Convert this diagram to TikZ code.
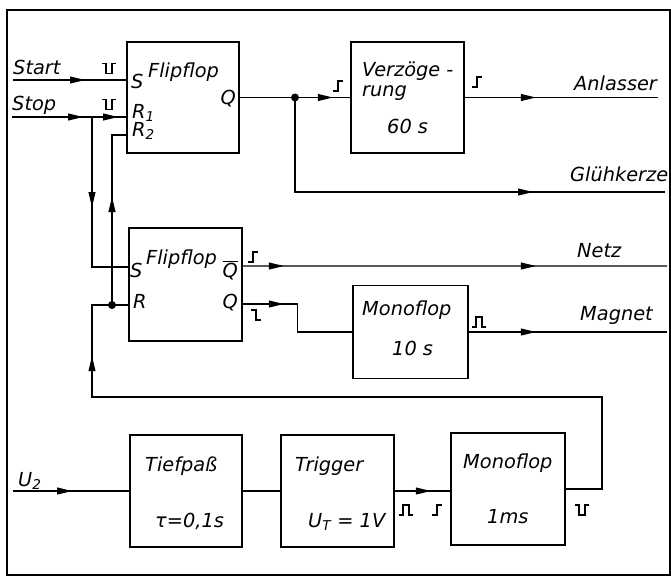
\documentclass[tikz,border=0pt]{standalone}
\usepackage{fontspec}
\setmainfont{DejaVu Sans}
\usetikzlibrary{arrows.meta,decorations.markings}

\begin{document}
\begin{tikzpicture}[
  txt/.style={font=\itshape\fontsize{16.5}{18}\selectfont,inner sep=0pt},
  block/.style={draw,line width=1.3pt,inner sep=0pt,
    minimum width=3.39cm,minimum height=3.36cm},
  wire/.style={line width=0.9pt},
  arr/.style={postaction={decorate,decoration={markings,
    mark=at position #1 with {\arrow{Triangle[length=0.45cm,width=0.21cm]}}}}},
  dot/.style={circle,fill,inner sep=0pt,minimum size=0.24cm},
  sym/.style={line width=1.6pt,line join=miter},
  rise/.pic={\draw[sym] (-0.14,-0.15) -- (0,-0.15) -- (0,0.15) -- (0.14,0.15);},
  fall/.pic={\draw[sym] (-0.14,0.15) -- (0,0.15) -- (0,-0.15) -- (0.14,-0.15);},
  pospulse/.pic={\draw[sym] (-0.2,-0.15) -- (-0.09,-0.15) -- (-0.09,0.15)
    -- (0.09,0.15) -- (0.09,-0.15) -- (0.2,-0.15);},
  negpulse/.pic={\draw[sym] (-0.2,0.15) -- (-0.09,0.15) -- (-0.09,-0.15)
    -- (0.09,-0.15) -- (0.09,0.15) -- (0.2,0.15);}
]
\useasboundingbox (0,0) rectangle (20.13,-17.31);
\draw[line width=2pt] (0.21,-0.30) rectangle (20.10,-17.25);

% blocks
\node[block,minimum width=3.36cm,minimum height=3.33cm] (ff1) at (5.49,-2.925) {};
\node[block,minimum height=3.33cm] (delay) at (12.225,-2.925) {};
\node[block,minimum height=3.39cm] (ff2) at (5.565,-8.535) {};
\node[block,minimum width=3.45cm,minimum height=2.79cm] (mono10) at (12.315,-9.96) {};
\node[block,minimum width=3.36cm] (lowpass) at (5.58,-14.73) {};
\node[block] (trigger) at (10.125,-14.73) {};
\node[block,minimum width=3.42cm] (mono1) at (15.24,-14.67) {};

\node[dot] (qdot) at (8.85,-2.925) {};
\node[dot] (rdot) at (3.36,-9.15) {};

\coordinate (start) at (0.39,-2.40);
\coordinate (stop) at (0.36,-3.51);
\coordinate (stopsplit) at (2.76,-3.51);
\coordinate (anlasser) at (19.74,-2.925);
\coordinate (gluehe) at (19.95,-5.76);
\coordinate (netz) at (20.01,-7.98);
\coordinate (magnet) at (20.01,-9.96);
\coordinate (u2) at (0.39,-14.73);

% texts
\node[txt,anchor=base west] (startlbl) at (0.39,-2.22) {Start};
\node[txt,anchor=base west] (stoplbl) at (0.36,-3.30) {Stop};
\node[txt,anchor=base west] (ff1s) at (3.93,-2.64) {S};
\node[txt,anchor=base west] (ff1name) at (4.44,-2.31) {Flipflop};
\node[txt,anchor=base east] (ff1q) at (7.08,-3.12) {Q};
\node[txt,anchor=base west] (ff1r1) at (3.96,-3.54) {R\textsubscript{1}};
\node[txt,anchor=base west] (ff1r2) at (3.96,-4.08) {R\textsubscript{2}};
\node[txt,anchor=base west] (delayname) at (10.86,-2.28) {Verzöge -};
\node[txt,anchor=base west] (delayname2) at (10.86,-2.88) {rung};
\node[txt,anchor=base west] (delaytime) at (11.61,-3.99) {60 s};
\node[txt,anchor=base west] (anlasserlbl) at (17.22,-2.70) {Anlasser};
\node[txt,anchor=base west] (gluehlbl) at (17.10,-5.43) {Glühkerze};
\node[txt,anchor=base west] (ff2s) at (3.90,-8.31) {S};
\node[txt,anchor=base west] (ff2name) at (4.38,-7.92) {Flipflop};
\node[txt,anchor=base east] (ff2qbar) at (7.14,-8.31) {$\overline{\mbox{Q}}$};
\node[txt,anchor=base east] (ff2q) at (7.14,-9.24) {Q};
\node[txt,anchor=base west] (ff2r) at (3.99,-9.24) {R};
\node[txt,anchor=base west] (netzlbl) at (17.31,-7.71) {Netz};
\node[txt,anchor=base west] (magnetlbl) at (17.40,-9.60) {Magnet};
\node[txt,anchor=base west] (mono10name) at (10.86,-9.45) {Monoflop};
\node[txt,anchor=base west] (mono10time) at (11.76,-10.65) {10 s};
\node[txt,anchor=base west] (u2lbl) at (0.54,-14.58) {U\textsubscript{2}};
\node[txt,anchor=base west] (lowpassname) at (4.35,-14.13) {Tiefpaß};
\node[txt,anchor=base west] (lowpasstau) at (4.65,-15.81) {τ=0,1s};
\node[txt,anchor=base west] (triggername) at (8.85,-14.13) {Trigger};
\node[txt,anchor=base west] (triggerut) at (9.24,-15.81) {U\textsubscript{T} = 1V};
\node[txt,anchor=base west] (mono1name) at (13.89,-14.04) {Monoflop};
\node[txt,anchor=base west] (mono1time) at (14.61,-15.69) {1ms};

% signal shapes
\pic at (3.27,-2.055) {negpulse};
\pic at (3.27,-3.135) {negpulse};
\pic at (10.14,-2.58) {rise};
\pic at (14.31,-2.46) {rise};
\pic at (7.59,-7.71) {rise};
\pic at (7.68,-9.45) {fall};
\pic at (14.37,-9.66) {pospulse};
\pic at (12.18,-15.30) {pospulse};
\pic at (13.11,-15.30) {rise};
\pic at (17.46,-15.30) {negpulse};

% connections
\draw[wire,arr=2.16cm] (start) -- (start -| ff1.west);
\draw[wire,arr=2.13cm,arr=3.18cm] (stop) -- (stop -| ff1.west);
\draw[wire,arr=2.70cm] (stopsplit) |- ([yshift=0.525cm]ff2.west);
\draw[wire,arr=3.24cm] (rdot.center) |- ([yshift=-1.125cm]ff1.west);
\draw[wire,arr=20.37cm] (mono1.east) -| (18.06,-11.91) -- (2.76,-11.91)
  |- ([yshift=-0.615cm]ff2.west);
\draw[wire,arr=2.79cm] (ff1.east) -- (delay.west);
\draw[wire,arr=9.975cm] (qdot.center) |- (gluehe);
\draw[wire,arr=2.13cm] (delay.east) -- (anlasser);
\draw[wire,arr=1.23cm,arr=8.79cm] ([yshift=0.555cm]ff2.east) -- (netz);
\draw[wire,arr=1.23cm] ([yshift=-0.585cm]ff2.east) -- ++(1.65,0) |- (mono10.west);
\draw[wire,arr=2.01cm] (mono10.east) -- (magnet);
\draw[wire,arr=1.77cm] (u2) -- (lowpass.west);
\draw[wire] (lowpass.east) -- (trigger.west);
\draw[wire,arr=1.08cm] (trigger.east) -- (trigger.east -| mono1.west);
\end{tikzpicture}
\end{document}
